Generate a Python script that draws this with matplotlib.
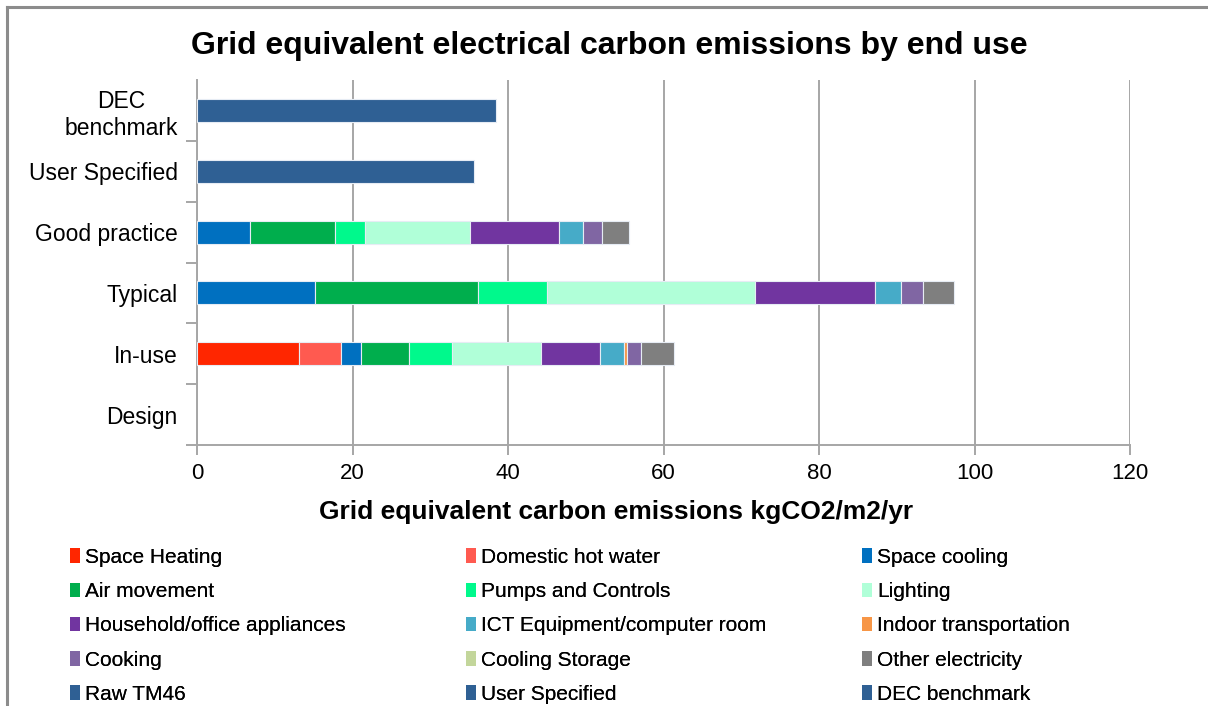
import matplotlib
matplotlib.use("Agg")
import matplotlib.pyplot as plt
from matplotlib.lines import Line2D
from matplotlib.patches import Patch

plt.rcParams["font.family"] = ["Liberation Sans", "DejaVu Sans"]

# Categories, bottom to top
categories = ["Design", "In-use", "Typical", "Good practice", "User Specified", "DEC\nbenchmark"]

# End-use emissions, kgCO2/m2/yr, one value per category
space_heating    = [0, 13.1, 0, 0, 0, 0]
domestic_hw      = [0, 5.45, 0, 0, 0, 0]
space_cooling    = [0, 2.6, 15.2, 6.8, 0, 0]
air_movement     = [0, 6.15, 20.9, 10.9, 0, 0]
pumps_controls   = [0, 5.55, 8.9, 3.9, 0, 0]
lighting         = [0, 11.35, 26.8, 13.5, 0, 0]
appliances       = [0, 7.6, 15.4, 11.4, 0, 0]
ict_equipment    = [0, 3.1, 3.3, 3.1, 0, 0]
indoor_transport = [0, 0.35, 0, 0, 0, 0]
cooking          = [0, 1.85, 2.9, 2.5, 0, 0]
cooling_storage  = [0, 0, 0, 0, 0, 0]
other_elec       = [0, 4.25, 4.0, 3.5, 0, 0]
raw_tm46         = [0, 0, 0, 0, 0, 0]
user_specified   = [0, 0, 0, 0, 35.6, 0]
dec_benchmark    = [0, 0, 0, 0, 0, 38.4]

series_names = ["Space Heating", "Domestic hot water", "Space cooling",
                "Air movement", "Pumps and Controls", "Lighting",
                "Household/office appliances", "ICT Equipment/computer room", "Indoor transportation",
                "Cooking", "Cooling Storage", "Other electricity",
                "Raw TM46", "User Specified", "DEC benchmark"]
series_values = [space_heating, domestic_hw, space_cooling,
                 air_movement, pumps_controls, lighting,
                 appliances, ict_equipment, indoor_transport,
                 cooking, cooling_storage, other_elec,
                 raw_tm46, user_specified, dec_benchmark]
series_colors = ["#FF2600", "#FF5A50", "#0070C0",
                 "#00AE4D", "#00F98C", "#B0FFD8",
                 "#7135A0", "#46ABC8", "#F79646",
                 "#8066A3", "#C3D69B", "#7F7F7F",
                 "#2F6094", "#2F6094", "#2F6094"]

fig = plt.figure(figsize=(12.08, 7.06), dpi=100)
ax = fig.add_axes([197 / 1208, 1 - 445 / 706, 933 / 1208, 365 / 706])

ypos = list(range(len(categories)))
left = [0.0] * len(categories)
for name, vals, col in zip(series_names, series_values, series_colors):
    lws = [0.8 if v > 0 else 0 for v in vals]
    ax.barh(ypos, vals, left=left, height=0.38, color=col,
            edgecolor="#E6ECF4", linewidth=lws, label=name, zorder=3)
    left = [l + v for l, v in zip(left, vals)]

grid_col = "#A6A6A6"
ax.set_xlim(0, 120)
ax.set_ylim(-0.5, len(categories) - 0.5)
ax.set_xticks(range(0, 121, 20))
ax.xaxis.grid(True, color=grid_col, linewidth=1.4, zorder=0)
ax.set_axisbelow(True)
ax.set_yticks(ypos)
ax.set_yticklabels(categories, fontsize=16.5, multialignment="center")
ax.set_yticks([y + 0.5 for y in ypos[:-1]] + [-0.5], minor=True)
ax.tick_params(axis="y", which="major", length=0, pad=14)
ax.tick_params(axis="y", which="minor", length=8, color=grid_col, width=1.4)
ax.tick_params(axis="x", length=7, color=grid_col, width=1.4, labelsize=16, pad=6)
for s in ["top", "right"]:
    ax.spines[s].set_visible(False)
for s in ["left", "bottom"]:
    ax.spines[s].set_color(grid_col)
    ax.spines[s].set_linewidth(1.4)

ax.set_xlabel("Grid equivalent carbon emissions kgCO2/m2/yr", fontsize=19,
              fontweight="bold")
ax.xaxis.set_label_coords((616 - 197) / 933, -(512 - 445) / 365)
ax.xaxis.label.set_va("center")
fig.text(609 / 1208, 1 - 46 / 706, "Grid equivalent electrical carbon emissions by end use",
         ha="center", va="center", fontsize=23, fontweight="bold")

# Legend: three columns, filled row by row
handles = [Patch(facecolor=c, edgecolor="none") for c in series_colors]
col_x = [70, 466, 862]
for c, x0 in enumerate(col_x):
    idx = [r * 3 + c for r in range(5)]
    leg = fig.legend([handles[i] for i in idx], [series_names[i] for i in idx],
                     ncol=1, loc="upper left", bbox_to_anchor=(x0 / 1208, 1 - 548 / 706),
                     frameon=False, fontsize=15, handlelength=0.48, handleheight=0.7,
                     handletextpad=0.25, labelspacing=0.73,
                     borderaxespad=0, borderpad=0)
    fig.add_artist(leg)

# Chart area border
fig.add_artist(Line2D([7 / 1208, 7 / 1208], [0, 1 - 7 / 706], color="#8C8C8C",
                      linewidth=2.2, transform=fig.transFigure))
fig.add_artist(Line2D([7 / 1208, 1], [1 - 7 / 706, 1 - 7 / 706], color="#8C8C8C",
                      linewidth=2.2, transform=fig.transFigure))

fig.savefig("out.png", dpi=100)
